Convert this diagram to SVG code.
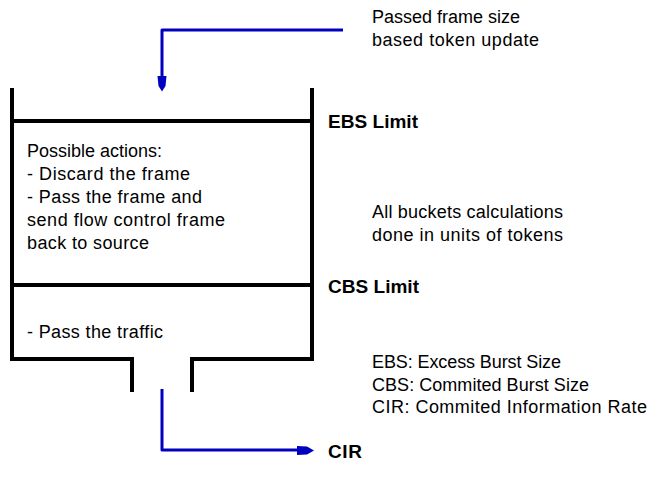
<svg xmlns="http://www.w3.org/2000/svg" width="662" height="484" viewBox="0 0 662 484">
<style>
.wall{fill:none;stroke:#000;stroke-width:4;stroke-linecap:square;stroke-linejoin:miter}
.flow{fill:none;stroke:#0000C0;stroke-width:3;stroke-linejoin:round}
.head{fill:#0000C0}
text{font-family:"Liberation Sans",Arial,sans-serif;font-size:18px;fill:#000}
.b{font-weight:bold;font-size:19px}
</style>
<rect width="662" height="484" fill="#fff"/>
<g id="bucket">
<path class="wall" d="M12 90 V359 H132 V390 M192 390 V359 H312 V90"/>
<path class="wall" d="M12 121 H312 M12 285 H312"/>
</g>
<g id="excess-zone">
<text x="27" y="157" textLength="135" lengthAdjust="spacing">Possible actions:</text>
<text x="27" y="180" textLength="163" lengthAdjust="spacing">- Discard the frame</text>
<text x="27" y="203" textLength="175" lengthAdjust="spacing">- Pass the frame and</text>
<text x="27" y="226" textLength="198" lengthAdjust="spacing">send flow control frame</text>
<text x="27" y="249" textLength="122" lengthAdjust="spacing">back to source</text>
</g>
<g id="committed-zone">
<text x="27" y="338" textLength="136" lengthAdjust="spacing">- Pass the traffic</text>
</g>
<g id="labels">
<text class="b" x="328" y="128" textLength="90" lengthAdjust="spacing">EBS Limit</text>
<text class="b" x="328" y="293" textLength="91" lengthAdjust="spacing">CBS Limit</text>
<text class="b" x="328" y="458" textLength="34" lengthAdjust="spacing">CIR</text>
</g>
<g id="token-update">
<text x="372" y="23" textLength="148" lengthAdjust="spacing">Passed frame size</text>
<text x="372" y="46" textLength="167" lengthAdjust="spacing">based token update</text>
</g>
<g id="note">
<text x="372" y="218" textLength="191" lengthAdjust="spacing">All buckets calculations</text>
<text x="372" y="241" textLength="191" lengthAdjust="spacing">done in units of tokens</text>
</g>
<g id="legend">
<text x="372" y="368" textLength="189" lengthAdjust="spacing">EBS: Excess Burst Size</text>
<text x="372" y="391" textLength="217" lengthAdjust="spacing">CBS: Commited Burst Size</text>
<text x="372" y="413" textLength="275" lengthAdjust="spacing">CIR: Commited Information Rate</text>
</g>
<g id="connectors">
<path class="flow" d="M343 30 H162 V78"/>
<path class="head" d="M157.5 76 H166.5 L165.5 86 L162 91.5 L158.5 86 Z"/>
<path class="flow" d="M162 389 V450 H300"/>
<path class="head" d="M297 446 L307 446.5 L314 450.5 L307 454.5 L297 455 Z"/>
</g>
</svg>
